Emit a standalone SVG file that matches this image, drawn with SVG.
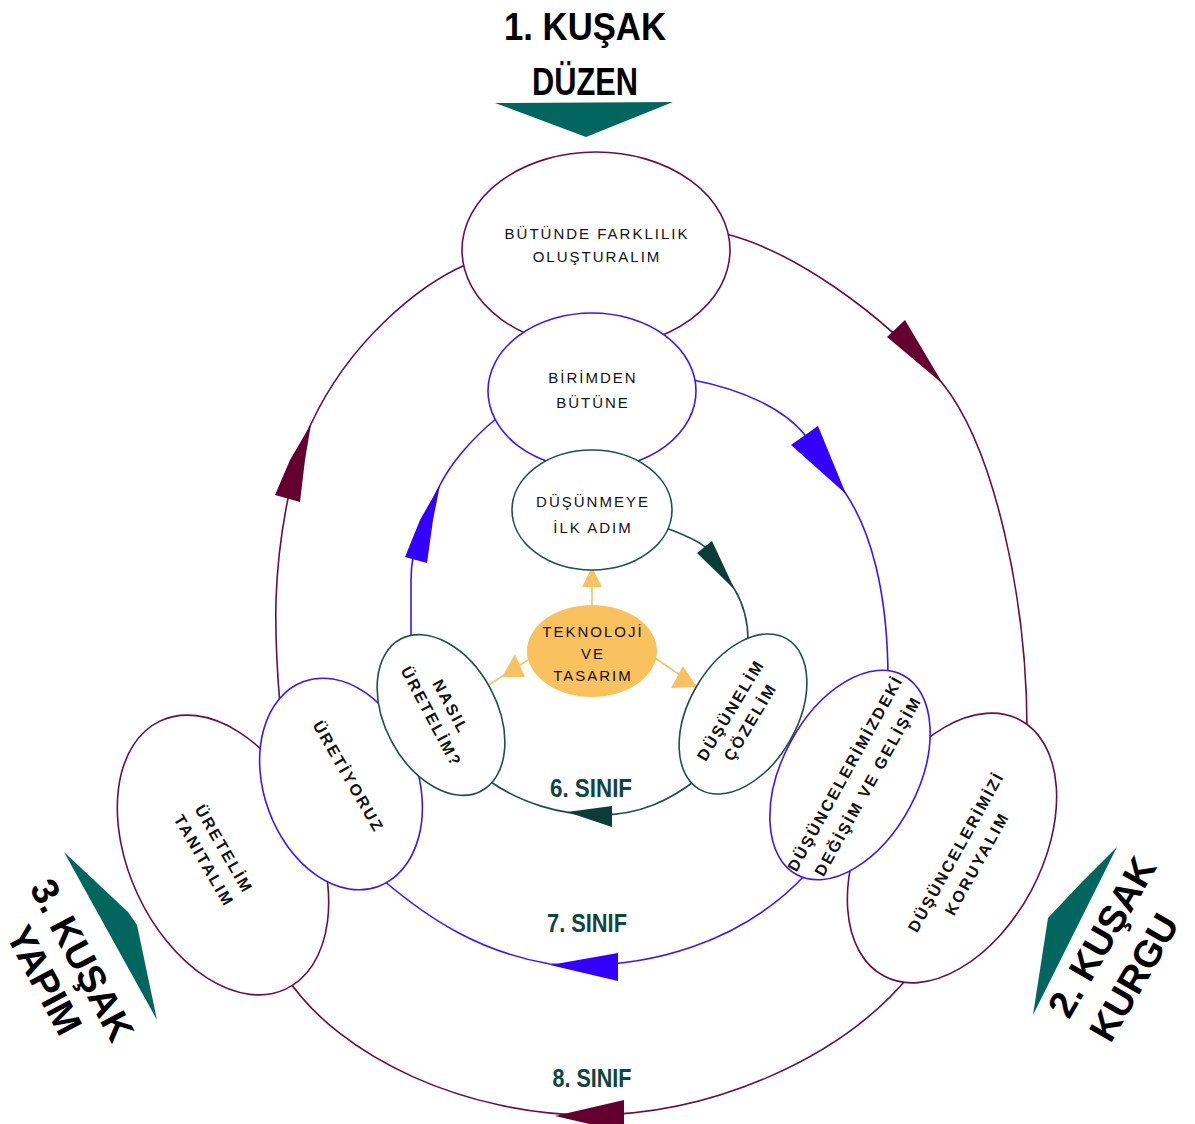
<svg xmlns="http://www.w3.org/2000/svg" width="1195" height="1124" viewBox="0 0 1195 1124">
<defs>
<style>
.m{fill:#fff;stroke:#6b0d3e;stroke-width:1.6}
.b{fill:#fff;stroke:#3a14ff;stroke-width:1.6}
.t{fill:#fff;stroke:#1e4f49;stroke-width:1.6}
.rm{fill:none;stroke:#6b0d3e;stroke-width:1.6}
.rb{fill:none;stroke:#3a14ff;stroke-width:1.6}
.rt{fill:none;stroke:#1e4f49;stroke-width:1.6}
.ro{fill:none;stroke:#f7c262;stroke-width:1.6}
.am{fill:#640030}
.ab{fill:#3300ff}
.at{fill:#0b3d38}
.ao{fill:#f7c262}
.big{fill:#00665e}
.lbl{font-family:"Liberation Sans",Arial,sans-serif;font-size:15px;fill:#111;letter-spacing:2px;text-anchor:middle}
.rl{font-family:"Liberation Sans",Arial,sans-serif;font-size:16px;font-weight:bold;fill:#111;letter-spacing:2.2px;text-anchor:middle}
.ttl{font-family:"Liberation Sans",Arial,sans-serif;font-weight:bold;fill:#000}
.sn{font-family:"Liberation Sans",Arial,sans-serif;font-size:25px;font-weight:bold;fill:#0f4540;text-anchor:middle}
</style>
</defs>
<rect width="1195" height="1124" fill="#fff"/>

<g id="connectors">
  <!-- outer ring (8. sinif) -->
  <path class="rm" d="M726,234 C790,250 880,310 943,384 C995,450 1027,600 1027,730"/>
  <path class="rm" d="M465,265 C420,285 350,340 311,424 C290,470 278,540 276,600 C275,640 277,670 280,705"/>
  <path class="rm" d="M285,975 C340,1060 470,1115 590,1115 C710,1115 840,1060 910,975"/>
  <polygon class="am" points="887,337 905,320 943,384"/>
  <polygon class="am" points="311,424 290,460 275,495 300,502 305,460"/>
  <polygon class="am" points="555,1116 624,1100 624,1132"/>
  <!-- middle ring (7. sinif) -->
  <path class="rb" d="M693,380 C745,390 785,410 805,435 L846,494 C870,530 888,590 888,680"/>
  <path class="rb" d="M497,418 C470,440 450,465 440,485 C425,515 411,545 411,580 L411,660"/>
  <path class="rb" d="M383,880 C430,920 480,952 550,964 C650,972 745,940 806,874"/>
  <polygon class="ab" points="791,445 818,426 846,494"/>
  <polygon class="ab" points="440,485 420,520 405,557 427,563 433,520"/>
  <polygon class="ab" points="550,965 618,953 618,981"/>
  <!-- inner ring (6. sinif) -->
  <path class="rt" d="M666,528 C685,535 698,541 705,547 L735,590 C742,602 748,618 748,640"/>
  <path class="rt" d="M488,780 C520,803 560,815 600,815 C640,815 670,800 696,780"/>
  <polygon class="at" points="697,553 712,541 735,590"/>
  <polygon class="at" points="567,812 612,806 612,827"/>
  <!-- centre arrows -->
  <path class="ro" d="M592,605 L592,585"/>
  <polygon class="ao" points="592,567 582,587 602,587"/>
  <path class="ro" d="M528,660 L487,686"/>
  <polygon class="ao" points="515,654 502,677 525,677"/>
  <path class="ro" d="M655,658 L696,686"/>
  <polygon class="ao" points="683,666 697,687 671,688"/>
</g>

<g id="n-butunde">
  <ellipse class="m" cx="596" cy="250" rx="134" ry="98"/>
  <text class="lbl" x="597" y="239">BÜTÜNDE FARKLILIK</text>
  <text class="lbl" x="597" y="262">OLUŞTURALIM</text>
</g>
<g id="n-uretelim-tanitalim">
  <ellipse class="m" cx="223" cy="855" rx="148" ry="94" transform="rotate(65 223 855)"/>
  <g transform="translate(214,855) rotate(60)">
    <text class="rl" x="0" y="-6">ÜRETELİM</text>
    <text class="rl" x="0" y="17">TANITALIM</text>
  </g>
</g>
<g id="n-koruyalim">
  <ellipse class="m" cx="952" cy="848" rx="145" ry="90" transform="rotate(-62 952 848)"/>
  <g transform="translate(967,858) rotate(-61)">
    <text class="rl" x="0" y="-7">DÜŞÜNCELERİMİZİ</text>
    <text class="rl" x="0" y="17">KORUYALIM</text>
  </g>
</g>
<g id="n-birimden">
  <ellipse class="b" cx="592" cy="391" rx="104" ry="78"/>
  <text class="lbl" x="593" y="383">BİRİMDEN</text>
  <text class="lbl" x="593" y="408">BÜTÜNE</text>
</g>
<g id="n-uretiyoruz">
  <ellipse class="b" cx="341" cy="784" rx="109" ry="77" transform="rotate(70 341 784)"/>
  <g transform="translate(348,777) rotate(60)">
    <text class="rl" x="0" y="5">ÜRETİYORUZ</text>
  </g>
</g>
<g id="n-degisim">
  <ellipse class="b" cx="850" cy="775" rx="113" ry="68" transform="rotate(-62 850 775)"/>
  <g transform="translate(857,780) rotate(-61)">
    <text class="rl" x="0" y="-8">DÜŞÜNCELERİMİZDEKİ</text>
    <text class="rl" x="0" y="18">DEĞİŞİM VE GELİŞİM</text>
  </g>
</g>
<g id="n-dusunmeye">
  <ellipse class="t" cx="592" cy="510" rx="80" ry="60"/>
  <text class="lbl" x="593" y="507">DÜŞÜNMEYE</text>
  <text class="lbl" x="593" y="533">İLK ADIM</text>
</g>
<g id="n-nasil">
  <ellipse class="t" cx="441" cy="715" rx="86" ry="56" transform="rotate(62 441 715)"/>
  <g transform="translate(440.5,712) rotate(62)">
    <text class="rl" x="0" y="-6">NASIL</text>
    <text class="rl" x="0" y="16">ÜRETELİM?</text>
  </g>
</g>
<g id="n-dusunelim">
  <ellipse class="t" cx="743" cy="714" rx="87" ry="54" transform="rotate(-60 743 714)"/>
  <g transform="translate(740.5,716) rotate(-59)">
    <text class="rl" x="0" y="-6">DÜŞÜNELİM</text>
    <text class="rl" x="0" y="17">ÇÖZELİM</text>
  </g>
</g>
<g id="n-teknoloji">
  <ellipse cx="592" cy="651" rx="65" ry="46" fill="#f9c25f"/>
  <text class="lbl" x="593" y="637">TEKNOLOJİ</text>
  <text class="lbl" x="593" y="659">VE</text>
  <text class="lbl" x="593" y="681">TASARIM</text>
</g>

<g id="labels">
  <text class="sn" x="591" y="797" textLength="82" lengthAdjust="spacingAndGlyphs">6. SINIF</text>
  <text class="sn" x="587" y="932" textLength="80" lengthAdjust="spacingAndGlyphs">7. SINIF</text>
  <text class="sn" x="592" y="1087" textLength="79" lengthAdjust="spacingAndGlyphs">8. SINIF</text>
</g>

<g id="kusak1">
  <text class="ttl" x="585" y="40" font-size="38" text-anchor="middle" textLength="162" lengthAdjust="spacingAndGlyphs">1. KUŞAK</text>
  <text class="ttl" x="585" y="95" font-size="38" text-anchor="middle" textLength="106" lengthAdjust="spacingAndGlyphs">DÜZEN</text>
  <polygon class="big" points="495,103 673,102 586,137"/>
</g>
<g id="kusak2">
  <polygon class="big" points="1117,847 1082,882 1048,918 1033,1015"/>
  <g transform="translate(1078,1025.5) rotate(-60)">
    <text class="ttl" x="0" y="-10.5" font-size="38">2. KUŞAK</text>
    <text class="ttl" x="0" y="37.5" font-size="38">KURGU</text>
  </g>
</g>
<g id="kusak3">
  <polygon class="big" points="64,852 128,912 137,925 157,1020"/>
  <g transform="translate(63.5,970) rotate(62)">
    <text class="ttl" x="0" y="-8" font-size="38" text-anchor="middle">3. KUŞAK</text>
    <text class="ttl" x="0" y="35" font-size="38" text-anchor="middle">YAPIM</text>
  </g>
</g>
</svg>
